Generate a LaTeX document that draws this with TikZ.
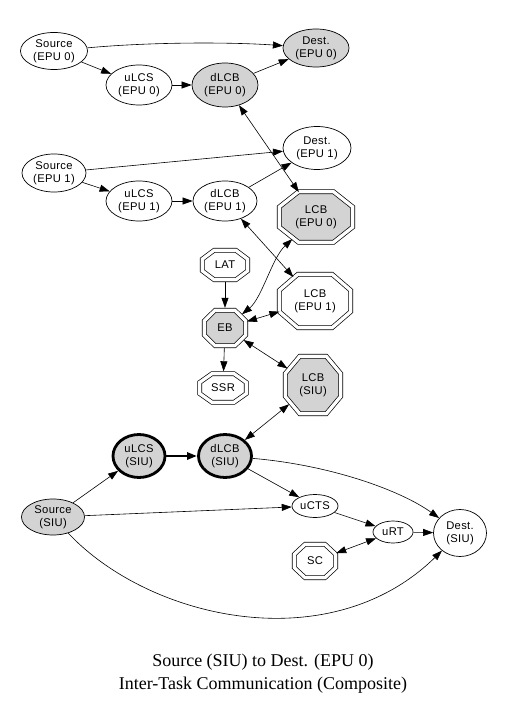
\documentclass[tikz,border=0pt]{standalone}
\usepackage{fontspec}
\setmainfont{Liberation Serif}
\setsansfont[LetterSpace=3]{Liberation Sans}
\usetikzlibrary{shapes.geometric,arrows.meta}
\definecolor{lgray}{HTML}{D3D3D3}

% name, x, y, width, height, fill, text
\newcommand{\buffer}[7]{%
  \pgfmathsetmacro\bufa{#4/2-2.3}
  \pgfmathsetmacro\bufb{#5/2-2.3}
  \filldraw[wall, fill=#6, shift={(#2,#3)}] (0.48*\bufa,-\bufb) -- (\bufa,-0.4*\bufb) -- (\bufa,0.4*\bufb)
      -- (0.48*\bufa,\bufb) -- (-0.48*\bufa,\bufb) -- (-\bufa,0.4*\bufb) -- (-\bufa,-0.4*\bufb)
      -- (-0.48*\bufa,-\bufb) -- cycle;
  \node[hub={#4pt}{#5pt}] (#1) at (#2,#3) {#7};}

\begin{document}
\begin{tikzpicture}[x=1pt,y=-1pt,
    every node/.style={font=\sffamily\fontsize{11.2}{12.7}\selectfont, align=center, inner sep=0pt},
    task/.style 2 args={ellipse, draw, line width=0.7pt, minimum width=#1, minimum height=#2},
    busy/.style 2 args={task={#1}{#2}, fill=lgray},
    bold/.style 2 args={busy={#1}{#2}, line width=2.8pt},
    hub/.style 2 args={ellipse, minimum width=#1, minimum height=#2},
    wall/.style={draw, line width=0.7pt, double, double distance=3.3pt},
    link/.style={-{Triangle[length=10pt,width=7pt]}, line width=0.6pt},
    duplex/.style={{Triangle[length=10pt,width=7pt]}-{Triangle[length=10pt,width=7pt]}, line width=0.6pt}]
        \useasboundingbox (0,0) rectangle (505,708);
        %EPU 0
        \node[task={67pt}{37pt}] (src0) at (54,51) {Source\\(EPU 0)};
        \node[busy={66pt}{38pt}] (dst0) at (316,48) {Dest.\\(EPU 0)};
        \node[task={66pt}{40pt}] (ulcs0) at (139,85) {uLCS\\(EPU 0)};
        \node[busy={66pt}{44pt}] (dlcb0) at (225,85) {dLCB\\(EPU 0)};
        %EPU 1
        \node[task={64pt}{38pt}] (src1) at (54,173) {Source\\(EPU 1)};
        \node[task={68pt}{43pt}] (dst1) at (317,148) {Dest.\\(EPU 1)};
        \node[task={66pt}{40pt}] (ulcs1) at (139,201) {uLCS\\(EPU 1)};
        \node[task={64pt}{40pt}] (dlcb1) at (225,201) {dLCB\\(EPU 1)};
        %Buffers
        \buffer{lcb0}{316}{217}{78}{55}{lgray}{LCB\\(EPU 0)}
        \buffer{lat}{225}{265}{50}{34}{white}{LAT}
        \buffer{lcb1}{315}{301}{76}{58}{white}{LCB\\(EPU 1)}
        \buffer{eb}{225}{328}{46}{40}{lgray}{EB}
        \buffer{ssr}{223}{388}{51}{33}{white}{SSR}
        \buffer{lcbs}{313}{385}{60}{62}{lgray}{LCB\\(SIU)}
        \buffer{sc}{315}{561}{46}{38}{white}{SC}
        %SIU
        \node[bold={52pt}{43pt}] (ulcss) at (139,456) {uLCS\\(SIU)};
        \node[bold={53pt}{43pt}] (dlcbs) at (225,456) {dLCB\\(SIU)};
        \node[busy={63pt}{36pt}] (srcs) at (53,517) {Source\\(SIU)};
        \node[task={46pt}{23pt}] (ucts) at (315,506) {uCTS};
        \node[task={40pt}{22pt}] (urt) at (393,532) {uRT};
        \node[task={53pt}{47pt}] (dsts) at (460,533) {Dest.\\(SIU)};
        %Title
        \node[font=\rmfamily\fontsize{18}{23}\selectfont] (title) at (263,674)
            {Source (SIU) to Dest. (EPU 0)\\Inter-Task Communication (Composite)};
        %Draw lines
        \draw[link] (src0) .. controls (150,42) and (230,42) .. (dst0);
        \draw[link] (src0) -- (ulcs0);
        \draw[link] (ulcs0) -- (dlcb0);
        \draw[link] (dlcb0) -- (dst0);
        \draw[duplex] (dlcb0) -- (lcb0);
        \draw[link] (src1) -- (dst1);
        \draw[link] (src1) -- (ulcs1);
        \draw[link] (ulcs1) -- (dlcb1);
        \draw[link] (dlcb1) -- (dst1);
        \draw[duplex] (dlcb1) -- (lcb1);
        \draw[link] (lat) -- (eb);
        \draw[duplex] (eb) .. controls (262,298) and (272,258) .. (lcb0);
        \draw[duplex] (eb) -- (lcb1);
        \draw[link] (eb) -- (ssr);
        \draw[duplex] (eb) -- (lcbs);
        \draw[duplex] (dlcbs) -- (lcbs);
        \draw[link] (srcs) -- (ulcss);
        \draw[link, line width=2.5pt] (ulcss) -- (dlcbs);
        \draw[link] (dlcbs) .. controls (330,465) and (400,490) .. (dsts);
        \draw[link] (dlcbs) -- (ucts);
        \draw[link] (srcs) -- (ucts);
        \draw[link] (ucts) -- (urt);
        \draw[link] (urt) -- (dsts);
        \draw[duplex] (sc) -- (urt);
        \draw[link] (srcs) .. controls (150,620) and (330,660) .. (dsts);
\end{tikzpicture}
\end{document}
